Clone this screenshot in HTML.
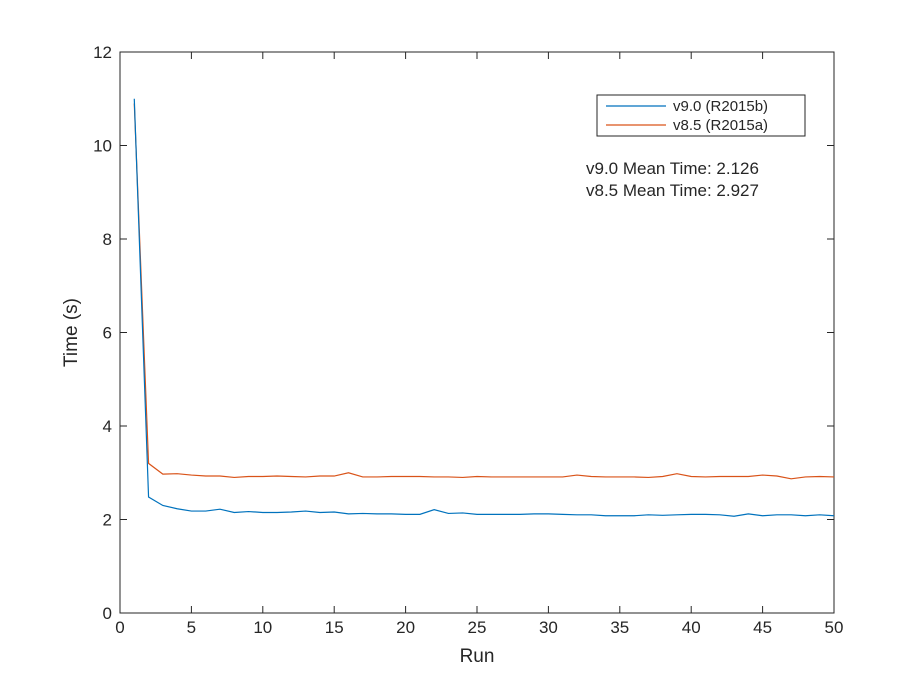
<!DOCTYPE html>
<html><head><meta charset="utf-8"><style>
body{margin:0;background:#fff;font-family:"Liberation Sans",sans-serif;}
svg text{font-family:"Liberation Sans",sans-serif;fill:#262626;}
</style></head><body>
<svg width="922" height="690" id="c">
<rect x="0" y="0" width="922" height="690" fill="#fff"/>
</svg>
<script>
const runs=[];for(let i=1;i<=50;i++)runs.push(i);
const v90=[11.0,2.48,2.30,2.23,2.18,2.18,2.22,2.15,2.17,2.15,2.15,2.16,2.18,2.15,2.16,2.12,2.13,2.12,2.12,2.11,2.11,2.21,2.13,2.14,2.11,2.11,2.11,2.11,2.12,2.12,2.11,2.10,2.10,2.08,2.08,2.08,2.10,2.09,2.10,2.11,2.11,2.10,2.07,2.12,2.08,2.10,2.10,2.08,2.10,2.08];
const v85=[10.9,3.2,2.97,2.98,2.95,2.93,2.93,2.90,2.92,2.92,2.93,2.92,2.91,2.93,2.93,3.00,2.91,2.91,2.92,2.92,2.92,2.91,2.91,2.90,2.92,2.91,2.91,2.91,2.91,2.91,2.91,2.95,2.92,2.91,2.91,2.91,2.90,2.92,2.98,2.92,2.91,2.92,2.92,2.92,2.95,2.93,2.87,2.91,2.92,2.91];
const xTicks=[0,5,10,15,20,25,30,35,40,45,50];
const yTicks=[0,2,4,6,8,10,12];
const L=120,R=834,T=52,B=613;
const sx=v=>L+(v-0)/(50-0)*(R-L);
const sy=v=>B-(v-0)/(12-0)*(B-T);
const svg=document.getElementById('c');const NS='http://www.w3.org/2000/svg';
function mk(t,a,p){const e=document.createElementNS(NS,t);for(const k in a)e.setAttribute(k,a[k]);(p||svg).appendChild(e);return e;}
const box=mk('rect',{x:L,y:T,width:R-L,height:B-T,fill:'none',stroke:'#262626','stroke-width':1});


xTicks.forEach(v=>{const x=sx(v);
mk('line',{x1:x,x2:x,y1:B,y2:B-7,stroke:'#262626'});mk('line',{x1:x,x2:x,y1:T,y2:T+7,stroke:'#262626'});
const t=mk('text',{x:x,y:B+20,'text-anchor':'middle','font-size':17});t.textContent=v;

});
yTicks.forEach(v=>{const y=sy(v);
mk('line',{x1:L,x2:L+7,y1:y,y2:y,stroke:'#262626'});mk('line',{x1:R,x2:R-7,y1:y,y2:y,stroke:'#262626'});
const t=mk('text',{x:L-8,y:y+6,'text-anchor':'end','font-size':17});t.textContent=v;

});
const xl=mk('text',{x:(L+R)/2,y:662,'text-anchor':'middle','font-size':19});xl.textContent='Run';


const yl=mk('text',{x:0,y:0,'text-anchor':'middle','font-size':19,transform:`translate(77,${(T+B)/2}) rotate(-90)`});yl.textContent='Time (s)';


function line(d,c,n){const p=mk('polyline',{points:d.map((v,i)=>sx(runs[i])+','+sy(v)).join(' '),fill:'none',stroke:c,'stroke-width':1.2});

}
line(v85,'#d95319','line-v85');
line(v90,'#0072bd','line-v90');
const lg=mk('g',{});


mk('rect',{x:597,y:95,width:208,height:41,fill:'#fff',stroke:'#262626'},lg);
mk('line',{x1:606,x2:666,y1:106,y2:106,stroke:'#0072bd','stroke-width':1.2},lg);
mk('line',{x1:606,x2:666,y1:125,y2:125,stroke:'#d95319','stroke-width':1.2},lg);
const l1=mk('text',{x:673,y:111,'font-size':15},lg);l1.textContent='v9.0 (R2015b)';


const l2=mk('text',{x:673,y:130,'font-size':15},lg);l2.textContent='v8.5 (R2015a)';


const m1=mk('text',{x:586,y:174,'font-size':17,fill:'#000'});m1.textContent='v9.0 Mean Time: 2.126';


const m2=mk('text',{x:586,y:196,'font-size':17,fill:'#000'});m2.textContent='v8.5 Mean Time: 2.927';


</script>
</body></html>
